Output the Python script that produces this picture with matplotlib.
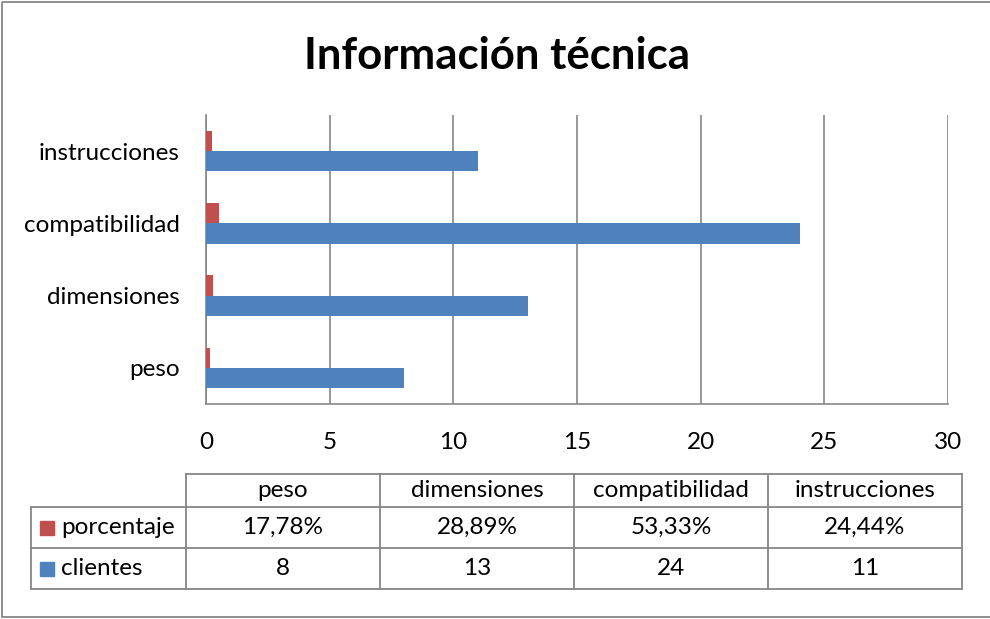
import matplotlib
matplotlib.use("Agg")
import matplotlib.pyplot as plt
from matplotlib.patches import Rectangle
import numpy as np

plt.rcParams['font.family'] = ['Lato', 'DejaVu Sans']

categories = ["peso", "dimensiones", "compatibilidad", "instrucciones"]
clientes = [8, 13, 24, 11]
porcentaje = [0.1778, 0.2889, 0.5333, 0.2444]
porcentaje_labels = ["17,78%", "28,89%", "53,33%", "24,44%"]
series_names = ["porcentaje", "clientes"]
xticks = [0, 5, 10, 15, 20, 25, 30]
title = "Información técnica"

BLUE = "#4F81BD"
RED = "#C0504D"
GRID = "#868686"

W, H = 990, 619
fig = plt.figure(figsize=(W / 100, H / 100), dpi=100)

def px_axes(x0, y0, x1, y1):
    return fig.add_axes([x0 / W, 1 - y1 / H, (x1 - x0) / W, (y1 - y0) / H])

# outer border (right edge lies outside the picture)
border = fig.add_axes([0, 0, 1, 1])
border.set_xlim(0, W); border.set_ylim(H, 0); border.axis("off")
border.add_patch(Rectangle((2, 2), W + 10, 615, fill=False, ec=GRID, lw=1.3,
                           clip_on=True))

fig.text(497 / W, 1 - 56 / H, title, ha="center", va="center",
         fontsize=31.5, fontweight="bold")

ax = px_axes(206, 115, 948, 404)
y = np.arange(len(categories))
h = 0.28
ax.barh(y - h / 2, clientes, height=h, color=BLUE, zorder=3)
ax.barh(y + h / 2, porcentaje, height=h, color=RED, zorder=3)
ax.set_xlim(0, 30)
ax.set_ylim(-0.5, len(categories) - 0.5)
ax.set_xticks(xticks)
ax.set_xticklabels([str(t) for t in xticks])
ax.set_yticks(y)
ax.set_yticklabels(categories)
ax.tick_params(axis="both", length=0, labelsize=17.5)
ax.tick_params(axis="x", pad=20)
ax.tick_params(axis="y", pad=19)
ax.grid(axis="x", color=GRID, lw=1.2, zorder=0)
for s in ["top", "right"]:
    ax.spines[s].set_visible(False)
for s in ["left", "bottom"]:
    ax.spines[s].set_color(GRID)
    ax.spines[s].set_linewidth(1.2)

# data table
tab = fig.add_axes([0, 0, 1, 1])
tab.set_xlim(0, W); tab.set_ylim(H, 0); tab.axis("off")
col_x = [31, 186, 380, 574, 768, 962]
row_y = [474, 507, 548, 589]
lkw = dict(color=GRID, lw=1.3)
tab.plot([col_x[1], col_x[-1]], [row_y[0], row_y[0]], **lkw)
for ry in row_y[1:]:
    tab.plot([col_x[0], col_x[-1]], [ry, ry], **lkw)
tab.plot([col_x[0], col_x[0]], [row_y[1], row_y[3]], **lkw)
for cx in col_x[1:]:
    tab.plot([cx, cx], [row_y[0], row_y[3]], **lkw)

fs = 17.5
for i, cat in enumerate(categories):
    cx = (col_x[i + 1] + col_x[i + 2]) / 2
    tab.text(cx, (row_y[0] + row_y[1]) / 2, cat, ha="center", va="center", fontsize=fs)
    tab.text(cx, (row_y[1] + row_y[2]) / 2, porcentaje_labels[i], ha="center", va="center", fontsize=fs)
    tab.text(cx, (row_y[2] + row_y[3]) / 2, str(clientes[i]), ha="center", va="center", fontsize=fs)

for j, (name, col) in enumerate(zip(series_names, [RED, BLUE])):
    cy = (row_y[j + 1] + row_y[j + 2]) / 2
    tab.add_patch(Rectangle((40, cy - 7), 14, 14, color=col))
    tab.text(61, cy, name, ha="left", va="center", fontsize=fs)

fig.savefig("out.png", dpi=100)
